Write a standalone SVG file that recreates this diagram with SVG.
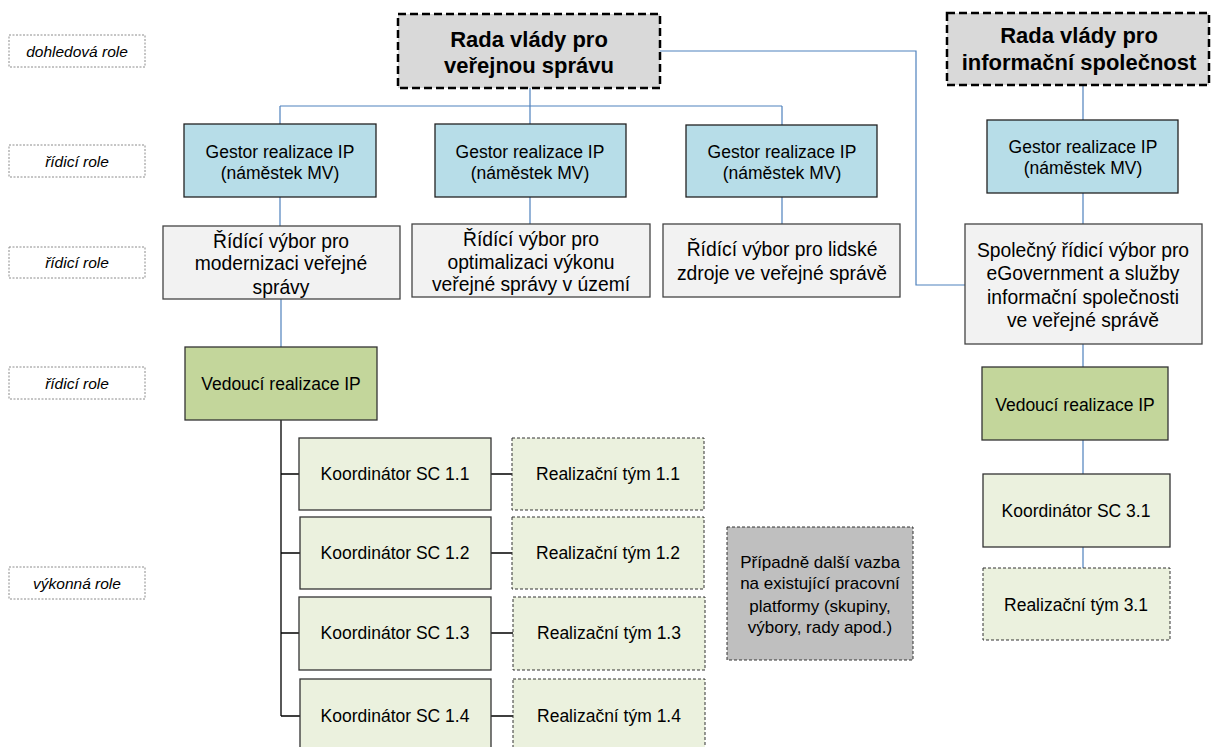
<svg xmlns="http://www.w3.org/2000/svg" width="1211" height="747" viewBox="0 0 1211 747">
<style>
text{font-family:"Liberation Sans",Arial,sans-serif;fill:#000;text-anchor:middle}
.lbl rect{fill:#fff;stroke:#8c8c8c;stroke-width:1;stroke-dasharray:2,1.5}
.lbl text{font-size:15.5px;font-style:italic}
.rada rect{fill:#d9d9d9;stroke:#000;stroke-width:2.5;stroke-dasharray:8,4}
.rada text{font-size:22px;font-weight:bold}
.gestor rect{fill:#b7dde8;stroke:#222;stroke-width:1.3}
.rv rect{fill:#f2f2f2;stroke:#444;stroke-width:1.3}
.ved rect{fill:#c3d69b;stroke:#333;stroke-width:1.3}
.koord rect{fill:#ebf1de;stroke:#333;stroke-width:1.3}
.tym rect{fill:#ebf1de;stroke:#333;stroke-width:1;stroke-dasharray:3,2}
.gray rect{fill:#bfbfbf;stroke:#333;stroke-width:1;stroke-dasharray:3,2}
.n text{font-size:17.5px}
.big text{font-size:19.3px}
.gray text{font-size:17px}
.blue{fill:none;stroke:#4f81bd;stroke-width:1.2}
.blk{fill:none;stroke:#000;stroke-width:1.3}
</style>

<g id="connectors">
<path class="blue" d="M530 88V106M280 106H782M280 106V124M530 106V124M782 106V125"/>
<path class="blue" d="M660 51H916V285H965"/>
<path class="blue" d="M1083 85V120"/>
<path class="blue" d="M280 197V226M530 197V224M782 197V224M1083 193V224"/>
<path class="blue" d="M281 299V347"/>
<path class="blue" d="M1083 344V367M1083 440V474M1083 547V568"/>
<path class="blk" d="M281 420V716M281 474H299M281 553H300M281 633H299M281 716H300"/>
<path class="blk" d="M491 474H512M491 553H512M491 633H513M491 716H513"/>
</g>

<g id="label-dohled" class="lbl"><rect x="9" y="35" width="136" height="32"/><text x="77" y="56.5">dohledová role</text></g>
<g id="label-ridici1" class="lbl"><rect x="9" y="145" width="136" height="32"/><text x="77" y="166.5">řídicí role</text></g>
<g id="label-ridici2" class="lbl"><rect x="9" y="247" width="136" height="31"/><text x="77" y="268">řídicí role</text></g>
<g id="label-ridici3" class="lbl"><rect x="9" y="367" width="136" height="32"/><text x="77" y="388.5">řídicí role</text></g>
<g id="label-vykon" class="lbl"><rect x="9" y="567" width="136" height="32"/><text x="77" y="588.5">výkonná role</text></g>

<g id="rada-vs" class="rada"><rect x="398" y="14" width="262" height="74"/><text x="529" y="47">Rada vlády pro</text><text x="529" y="73">veřejnou správu</text></g>
<g id="rada-is" class="rada"><rect x="947" y="13" width="262" height="72"/><text x="1079" y="43">Rada vlády pro</text><text x="1079" y="70">informační společnost</text></g>

<g id="gestor1" class="gestor n"><rect x="184" y="124" width="192" height="73"/><text x="280" y="158">Gestor realizace IP</text><text x="280" y="179">(náměstek MV)</text></g>
<g id="gestor2" class="gestor n"><rect x="435" y="124" width="191" height="73"/><text x="530" y="158">Gestor realizace IP</text><text x="530" y="179">(náměstek MV)</text></g>
<g id="gestor3" class="gestor n"><rect x="686" y="125" width="191" height="72"/><text x="782" y="158">Gestor realizace IP</text><text x="782" y="179">(náměstek MV)</text></g>
<g id="gestor4" class="gestor n"><rect x="987" y="120" width="191" height="73"/><text x="1083" y="153">Gestor realizace IP</text><text x="1083" y="174">(náměstek MV)</text></g>

<g id="rv1" class="rv big"><rect x="163" y="226" width="237" height="73"/><text x="281" y="248">Řídící výbor pro</text><text x="281" y="270">modernizaci veřejné</text><text x="281" y="294">správy</text></g>
<g id="rv2" class="rv big"><rect x="412" y="224" width="238" height="73"/><text x="531" y="246">Řídící výbor pro</text><text x="531" y="269">optimalizaci výkonu</text><text x="531" y="291">veřejné správy v území</text></g>
<g id="rv3" class="rv big"><rect x="663" y="224" width="237" height="73"/><text x="782" y="256">Řídící výbor pro lidské</text><text x="782" y="280">zdroje ve veřejné správě</text></g>
<g id="rv4" class="rv big"><rect x="965" y="224" width="237" height="120"/><text x="1083" y="257">Společný řídicí výbor pro</text><text x="1083" y="280">eGovernment a služby</text><text x="1083" y="304">informační společnosti</text><text x="1083" y="327">ve veřejné správě</text></g>

<g id="ved1" class="ved n"><rect x="185" y="347" width="192" height="73"/><text x="281" y="390">Vedoucí realizace IP</text></g>
<g id="ved2" class="ved n"><rect x="982" y="367" width="186" height="73"/><text x="1075" y="411">Vedoucí realizace IP</text></g>

<g id="koord11" class="koord n"><rect x="299" y="438" width="192" height="72"/><text x="395" y="480">Koordinátor SC 1.1</text></g>
<g id="koord12" class="koord n"><rect x="300" y="517" width="191" height="72"/><text x="395" y="559">Koordinátor SC 1.2</text></g>
<g id="koord13" class="koord n"><rect x="299" y="597" width="192" height="73"/><text x="395" y="639">Koordinátor SC 1.3</text></g>
<g id="koord14" class="koord n"><rect x="300" y="679" width="191" height="80"/><text x="395" y="722">Koordinátor SC 1.4</text></g>

<g id="tym11" class="tym n"><rect x="512" y="438" width="192" height="72"/><text x="608" y="480">Realizační tým 1.1</text></g>
<g id="tym12" class="tym n"><rect x="512" y="517" width="192" height="72"/><text x="608" y="559">Realizační tým 1.2</text></g>
<g id="tym13" class="tym n"><rect x="513" y="597" width="192" height="73"/><text x="609" y="639">Realizační tým 1.3</text></g>
<g id="tym14" class="tym n"><rect x="513" y="679" width="192" height="80"/><text x="609" y="722">Realizační tým 1.4</text></g>

<g id="koord31" class="koord n"><rect x="983" y="474" width="187" height="73"/><text x="1076" y="517">Koordinátor SC 3.1</text></g>
<g id="tym31" class="tym n"><rect x="983" y="568" width="187" height="72"/><text x="1076" y="611">Realizační tým 3.1</text></g>

<g id="dalsi" class="gray"><rect x="727" y="527" width="186" height="133"/><text x="820" y="568">Případně další vazba</text><text x="820" y="589">na existující pracovní</text><text x="820" y="612">platformy (skupiny,</text><text x="820" y="633">výbory, rady apod.)</text></g>
</svg>
